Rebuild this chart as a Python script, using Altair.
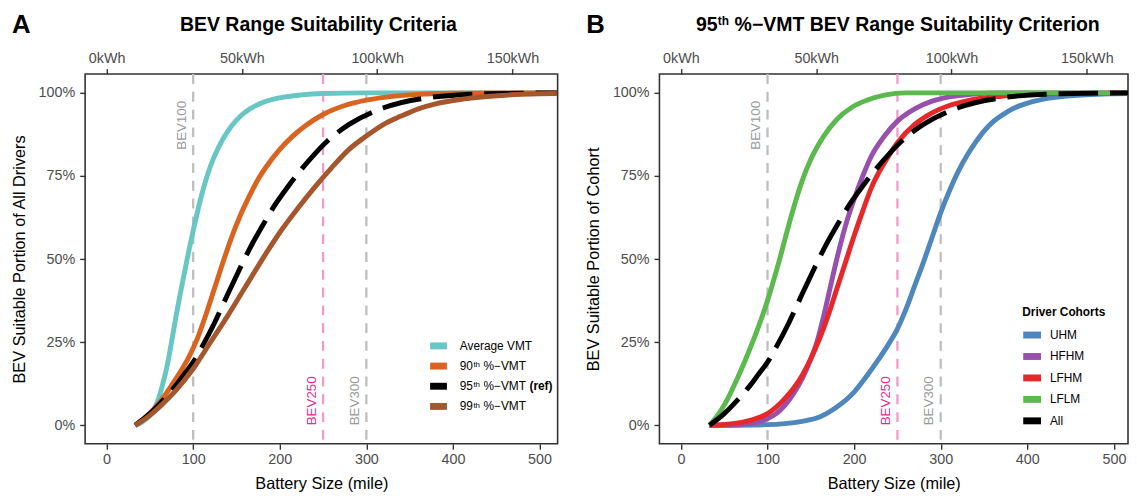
import altair as alt
import pandas as pd

# ---------------- data ----------------
# Panel A: share of all drivers that are BEV-suitable vs battery size (miles)
AVG_MILES = [33, 40, 45, 50, 55, 60, 65, 70, 75, 80, 85, 90, 95, 100, 110, 120, 130, 140, 150, 160, 175, 200, 225, 250, 300, 400, 520]
AVG_SHARE = [0, 0.008, 0.018, 0.03, 0.05, 0.08, 0.125, 0.18, 0.25, 0.325, 0.395, 0.46, 0.525, 0.585, 0.695, 0.78, 0.84, 0.885, 0.918, 0.942, 0.965, 0.985, 0.994, 0.998, 1.0, 1.0, 1.0]

P90_MILES = [33, 45, 55, 65, 75, 85, 95, 105, 115, 125, 135, 145, 155, 165, 175, 185, 200, 215, 230, 250, 275, 300, 325, 350, 400, 520]
P90_SHARE = [0, 0.025, 0.05, 0.082, 0.12, 0.16, 0.205, 0.262, 0.335, 0.415, 0.495, 0.57, 0.635, 0.69, 0.74, 0.78, 0.83, 0.87, 0.902, 0.935, 0.962, 0.978, 0.988, 0.994, 0.999, 1.0]

P95_MILES = [33, 50, 65, 80, 90, 100, 110, 125, 140, 150, 165, 180, 195, 210, 225, 240, 255, 280, 320, 370, 435, 520]
P95_SHARE = [0, 0.035, 0.075, 0.12, 0.155, 0.19, 0.235, 0.31, 0.395, 0.45, 0.53, 0.60, 0.665, 0.72, 0.77, 0.815, 0.855, 0.905, 0.955, 0.985, 0.997, 1.0]

P99_MILES = [33, 50, 63, 80, 100, 120, 140, 160, 180, 200, 220, 240, 260, 280, 300, 320, 340, 360, 380, 400, 430, 460, 500, 520]
P99_SHARE = [0, 0.03, 0.06, 0.105, 0.17, 0.25, 0.33, 0.415, 0.50, 0.58, 0.65, 0.715, 0.775, 0.83, 0.87, 0.905, 0.93, 0.952, 0.967, 0.977, 0.987, 0.993, 0.997, 0.998]

# Panel B: share of each cohort suitable under the 95th %-VMT criterion
UHM_MILES = [33, 100, 120, 140, 160, 180, 200, 215, 230, 240, 250, 260, 270, 280, 290, 300, 310, 320, 330, 340, 350, 360, 375, 390, 405, 420, 440, 480, 520]
UHM_SHARE = [0, 0.002, 0.005, 0.012, 0.025, 0.055, 0.10, 0.15, 0.205, 0.245, 0.29, 0.35, 0.42, 0.49, 0.565, 0.64, 0.705, 0.762, 0.81, 0.85, 0.885, 0.912, 0.94, 0.96, 0.973, 0.982, 0.989, 0.996, 0.998]

HFHM_MILES = [33, 60, 80, 100, 110, 120, 130, 140, 150, 157, 165, 172, 180, 190, 200, 210, 220, 235, 250, 270, 290, 310, 335, 370, 520]
HFHM_SHARE = [0, 0.001, 0.005, 0.02, 0.035, 0.06, 0.095, 0.14, 0.2, 0.25, 0.33, 0.41, 0.5, 0.6, 0.68, 0.75, 0.81, 0.87, 0.915, 0.952, 0.975, 0.988, 0.996, 1.0, 1.0]

LFHM_MILES = [33, 60, 80, 100, 120, 140, 150, 160, 170, 180, 190, 200, 210, 220, 235, 250, 270, 290, 310, 330, 370, 420, 520]
LFHM_SHARE = [0, 0.005, 0.015, 0.035, 0.08, 0.15, 0.2, 0.26, 0.33, 0.41, 0.49, 0.57, 0.645, 0.715, 0.79, 0.85, 0.905, 0.94, 0.962, 0.976, 0.99, 0.997, 1.0]

LFLM_MILES = [33, 45, 55, 65, 75, 85, 100, 113, 128, 140, 150, 165, 180, 197, 215, 235, 260, 520]
LFLM_SHARE = [0, 0.04, 0.085, 0.14, 0.20, 0.265, 0.375, 0.49, 0.635, 0.735, 0.80, 0.87, 0.92, 0.956, 0.978, 0.993, 1.0, 1.0]

ALL_MILES = P95_MILES
ALL_SHARE = P95_SHARE

A_NAMES = ["Average VMT", "90th %−VMT", "95th %−VMT (ref)", "99th %−VMT"]
A_COLORS = ["#68C6C4", "#D9641F", "#000000", "#A5562C"]
B_NAMES = ["UHM", "HFHM", "LFHM", "LFLM", "All"]
B_COLORS = ["#4E86BE", "#9850AE", "#E6282A", "#5CB94E", "#000000"]
B_LEGEND_TITLE = "Driver Cohorts"

TITLE_A = "BEV Range Suitability Criteria"
TITLE_B = ["95", "th", "%−VMT BEV Range Suitability Criterion"]

REF_MILES = [100, 250, 300]
REF_LABELS = ["BEV100", "BEV250", "BEV300"]
KWH_TICKS = [0, 50, 100, 150]
X_TICKS = [0, 100, 200, 300, 400, 500]
Y_TICKS = [0, 0.25, 0.5, 0.75, 1]
KWH_PER_MILE = 0.32

# ---------------- layout constants ----------------
FONT = "Liberation Sans"
XMIN = -24.8
PX_PER_MILE = 0.876
H = 374
YDOM = [-0.0556, 1.0565]


def ptext(s, x, y, **kw):
    """Text placed in pixel space of the panel (titles, legend labels)."""
    style = dict(font=FONT, color="#000", align="left", baseline="alphabetic")
    style.update(kw)
    return (alt.Chart(pd.DataFrame({"t": [s]})).mark_text(**style)
            .encode(x=alt.value(x), y=alt.value(y), text="t:N"))


def swatch(color, x0, yc, w, h=7):
    return (alt.Chart(pd.DataFrame({"k": [0]})).mark_rect(color=color)
            .encode(x=alt.value(x0), x2=alt.value(x0 + w), y=alt.value(yc - h / 2), y2=alt.value(yc + h / 2)))


def legend_label(name, x, yc):
    """Legend label with a real superscript for ordinal suffixes and bold '(ref)'."""
    out = []
    if name[:2].isdigit():
        num, sup, rest = name[:2], name[2:4], name[5:]
        bold = None
        if rest.endswith(" (ref)"):
            rest, bold = rest[:-6], "(ref)"
        out.append(ptext(num, x, yc, baseline="middle", fontSize=12))
        out.append(ptext(sup, x + 13.8, yc + 1.2, fontSize=8))
        out.append(ptext(rest, x + 24, yc, baseline="middle", fontSize=12))
        if bold:
            out.append(ptext(bold, x + 70.5, yc, baseline="middle", fontSize=12, fontWeight="bold"))
    else:
        out.append(ptext(name, x, yc, baseline="middle", fontSize=12))
    return out


def make_panel(names, colors, series, dashed_name, extra_layers, ytitle, letter, width):
    xmax = XMIN + width / PX_PER_MILE
    xsc = alt.Scale(domain=[XMIN, xmax], nice=False, zero=False)
    ysc = alt.Scale(domain=YDOM, nice=False, zero=False)
    xaxis = alt.Axis(values=X_TICKS, format="d", title="Battery Size (mile)", grid=False)
    yaxis = alt.Axis(values=Y_TICKS, format=".0%", title=ytitle, grid=False)
    color = alt.Color("series:N", scale=alt.Scale(domain=names, range=colors), legend=None)

    ref_df = pd.DataFrame({"miles": REF_MILES, "label": REF_LABELS})
    layers = []
    layers.append(
        alt.Chart(ref_df).transform_filter("datum.label != 'BEV250'")
        .mark_rule(color="#BEBEBE", strokeWidth=2.3, strokeDash=[10, 8])
        .encode(x=alt.X("miles:Q", scale=xsc, axis=xaxis))
    )
    layers.append(
        alt.Chart(ref_df).transform_filter("datum.label == 'BEV250'")
        .mark_rule(color="#F49AC8", strokeWidth=2.3, strokeDash=[10, 8])
        .encode(x=alt.X("miles:Q", scale=xsc, axis=xaxis))
    )
    for name, (miles, share) in zip(names, series):
        df = pd.DataFrame({"miles": miles, "share": share, "series": name})
        kw = dict(strokeWidth=5, interpolate="monotone", clip=True, strokeCap="butt")
        if name == dashed_name:
            kw["strokeDash"] = [40, 12]
        layers.append(
            alt.Chart(df).mark_line(**kw).encode(
                x=alt.X("miles:Q", scale=xsc, axis=xaxis),
                y=alt.Y("share:Q", scale=ysc, axis=yaxis),
                color=color,
            )
        )
    # reference line labels
    txt = dict(angle=270, fontSize=13.5, font=FONT, baseline="alphabetic")
    lab = (alt.Chart(ref_df)
           .transform_calculate(lx="datum.miles - 8.4",
                                ly="datum.label == 'BEV100' ? 0.976 : 0"))
    for lbl, align, col in [("BEV100", "right", "#9A9A9A"), ("BEV300", "left", "#9A9A9A"),
                            ("BEV250", "left", "#E7298A")]:
        layers.append(
            lab.transform_filter(f"datum.label == '{lbl}'")
            .mark_text(align=align, color=col, **txt)
            .encode(x=alt.X("lx:Q", scale=xsc, axis=xaxis), y=alt.Y("ly:Q", scale=ysc, axis=yaxis),
                    text="label:N")
        )
    # panel letter
    layers.append(ptext(letter, -74, -42, fontSize=26, fontWeight="bold"))
    layers.extend(extra_layers)
    main = alt.layer(*layers)

    top = alt.Chart(pd.DataFrame({"kwh": KWH_TICKS})).mark_point(opacity=0).encode(
        x=alt.X("kwh:Q",
                scale=alt.Scale(domain=[XMIN * KWH_PER_MILE, xmax * KWH_PER_MILE], nice=False, zero=False),
                axis=alt.Axis(orient="top", values=KWH_TICKS, labelExpr="datum.value + 'kWh'",
                              title=None, grid=False))
    )
    return alt.layer(main, top).resolve_scale(x="independent").properties(width=width, height=H)


# ---- panel A decorations: title and legend ----
extra_a = [ptext(TITLE_A, 236, -44, fontSize=19.7, fontWeight="bold", align="center")]
for i, (name, col) in enumerate(zip(A_NAMES, A_COLORS)):
    yc = 275 + i * 20.4
    extra_a.append(swatch(col, 349, yc, 17))
    extra_a.extend(legend_label(name, 379, yc))

# ---- panel B decorations: title (with superscript) and legend ----
extra_b = [
    ptext(TITLE_B[0], 37, -44, fontSize=19.7, fontWeight="bold"),
    ptext(TITLE_B[1], 59, -49.5, fontSize=12, fontWeight="bold"),
    ptext(TITLE_B[2], 76, -44, fontSize=19.7, fontWeight="bold"),
    ptext(B_LEGEND_TITLE, 367, 241, fontSize=12, fontWeight="bold", baseline="middle"),
]
for i, (name, col) in enumerate(zip(B_NAMES, B_COLORS)):
    yc = 264 + i * 21.7
    extra_b.append(swatch(col, 368, yc, 18))
    extra_b.extend(legend_label(name, 395, yc))

panel_a = make_panel(
    A_NAMES, A_COLORS,
    [(AVG_MILES, AVG_SHARE), (P90_MILES, P90_SHARE), (P95_MILES, P95_SHARE), (P99_MILES, P99_SHARE)],
    "95th %−VMT (ref)", extra_a, "BEV Suitable Portion of All Drivers", "A", 478)

panel_b = make_panel(
    B_NAMES, B_COLORS,
    [(UHM_MILES, UHM_SHARE), (HFHM_MILES, HFHM_SHARE), (LFHM_MILES, LFHM_SHARE),
     (LFLM_MILES, LFLM_SHARE), (ALL_MILES, ALL_SHARE)],
    "All", extra_b, "BEV Suitable Portion of Cohort", "B", 474)

chart = (
    alt.hconcat(panel_a, panel_b, spacing=26)
    .resolve_scale(color="independent")
    .properties(padding={"left": 2, "top": 0, "right": 0, "bottom": 0}, background="white")
    .configure_view(stroke="#333333", strokeWidth=1.6)
    .configure_axis(labelFont=FONT, labelFontSize=14.5, labelColor="#4D4D4D", titleFont=FONT,
                    titleFontSize=16.5, titleColor="#000", titleFontWeight="normal",
                    tickColor="#333333", tickWidth=1.4, tickSize=5.5, labelPadding=3,
                    domain=False, grid=False)
    .configure_axisY(titlePadding=11, labelPadding=5)
    .configure_axisX(titlePadding=10)
)

chart.save("out.html", embed_options={"renderer": "svg", "actions": False})
